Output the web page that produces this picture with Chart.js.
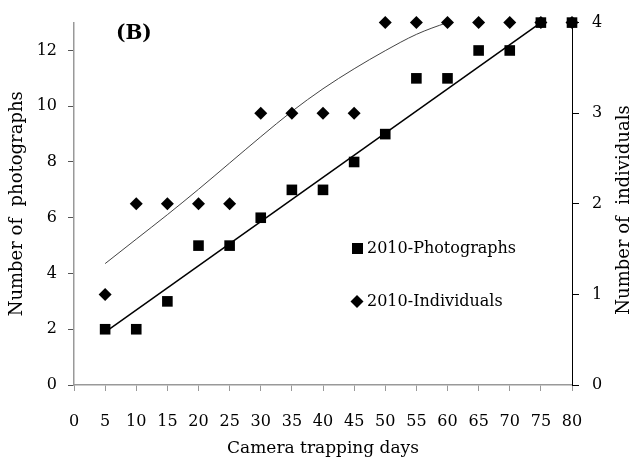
<!DOCTYPE html>
<html>
<head>
<meta charset="utf-8">
<script src="https://cdn.jsdelivr.net/npm/chart.js@4/dist/chart.umd.min.js"></script>
<style>
  html, body { margin: 0; padding: 0; background: #fff; }
  #wrap { width: 633px; height: 464px; }
</style>
</head>
<body>
<div id="wrap"><canvas id="chart" width="633" height="464"></canvas></div>
<script>
// 資料
const days = [5, 10, 15, 20, 25, 30, 35, 40, 45, 50, 55, 60, 65, 70, 75, 80];
const photographs = [2, 2, 3, 5, 5, 6, 7, 7, 8, 9, 11, 11, 12, 12, 13, 13];
const individuals = [1, 2, 2, 2, 2, 3, 3, 3, 3, 4, 4, 4, 4, 4, 4, 4];

// 趨勢線
const photoTrendDays = [5, 75];
const photoTrend = [1.9, 13];
const indTrendDays = [5, 10, 15, 20, 25, 30, 35, 40, 45, 50, 55, 60, 62];
const indTrend = [1.34, 1.61, 1.88, 2.16, 2.45, 2.74, 3.02, 3.27, 3.49, 3.69, 3.87, 4.0, 4.04];

const xTicks = [0, 5, 10, 15, 20, 25, 30, 35, 40, 45, 50, 55, 60, 65, 70, 75, 80];
const leftTicks = [0, 2, 4, 6, 8, 10, 12];
const rightTicks = [0, 1, 2, 3, 4];

const SERIF = '"DejaVu Serif", "Liberation Serif", serif';

const toPts = (xs, ys) => xs.map((x, i) => ({ x: x, y: ys[i] }));

// 圖內圖例、(B) 與右側標題
const overlay = {
  id: 'overlay',
  afterDraw(chart) {
    const c = chart.ctx;
    c.save();
    c.fillStyle = '#000';
    c.font = 'bold 20px ' + SERIF;
    c.textBaseline = 'middle';
    c.textAlign = 'left';
    c.fillText('(B)', 116, 34);

    c.font = '16px ' + SERIF;
    const ds = chart.data.datasets;
    // square
    c.fillRect(352, 243, 11, 11);
    c.fillText(ds[0].label, 367, 249);
    // diamond
    c.beginPath();
    c.moveTo(357, 295);
    c.lineTo(363.5, 301.5);
    c.lineTo(357, 308);
    c.lineTo(350.5, 301.5);
    c.closePath();
    c.fill();
    c.fillText(ds[1].label, 367, 302);

    c.translate(624, 210);
    c.rotate(-Math.PI / 2);
    c.textAlign = 'center';
    c.font = '18px ' + SERIF;
    c.fillText('Number of  individuals', 0, 0);
    c.restore();
  }
};

new Chart(document.getElementById('chart'), {
  type: 'scatter',
  data: {
    datasets: [{
      label: '2010-Photographs',
      data: toPts(days, photographs),
      yAxisID: 'y',
      pointStyle: 'rect',
      pointRadius: 7.5,
      pointBorderWidth: 0,
      backgroundColor: '#000',
      borderColor: '#000',
      clip: false
    }, {
      label: '2010-Individuals',
      data: toPts(days, individuals),
      yAxisID: 'y1',
      pointStyle: 'rectRot',
      pointRadius: 6.5,
      pointBorderWidth: 0,
      backgroundColor: '#000',
      borderColor: '#000',
      clip: false
    }, {
      label: 'photoTrend',
      data: toPts(photoTrendDays, photoTrend),
      yAxisID: 'y',
      showLine: true,
      pointRadius: 0,
      borderColor: '#000',
      borderWidth: 1.5
    }, {
      label: 'indTrend',
      data: toPts(indTrendDays, indTrend),
      yAxisID: 'y1',
      showLine: true,
      cubicInterpolationMode: 'monotone',
      pointRadius: 0,
      borderColor: '#444',
      borderWidth: 1
    }]
  },
  options: {
    responsive: false,
    animation: false,
    layout: { padding: { top: 9, left: 0, right: 0, bottom: 0 } },
    plugins: {
      legend: { display: false },
      tooltip: { enabled: false }
    },
    scales: {
      x: {
        type: 'linear',
        min: 0,
        max: 80,
        afterBuildTicks: (s) => { s.ticks = xTicks.map(v => ({ value: v })); },
        afterFit: (s) => { s.height = 79; },
        border: { display: true, color: '#999', width: 1.5 },
        grid: { drawOnChartArea: false, drawTicks: true, tickLength: 6, color: '#999' },
        ticks: { color: '#000', font: { family: SERIF, size: 16 }, padding: 21, maxRotation: 0, autoSkip: false },
        title: { display: true, text: 'Camera trapping days', color: '#000', font: { family: SERIF, size: 17, lineHeight: 1 }, padding: { top: 0, bottom: 7 } }
      },
      y: {
        type: 'linear',
        position: 'left',
        min: 0,
        max: 13,
        afterBuildTicks: (s) => { s.ticks = leftTicks.map(v => ({ value: v })); },
        afterFit: (s) => { s.width = 74; },
        border: { display: true, color: '#999', width: 1.5 },
        grid: { drawOnChartArea: false, drawTicks: true, tickLength: 6, color: '#555' },
        ticks: { color: '#000', font: { family: SERIF, size: 16 }, padding: 11 },
        title: { display: true, text: 'Number of  photographs', color: '#000', font: { family: SERIF, size: 18, lineHeight: 1 }, padding: { top: 8, bottom: 0 } }
      },
      y1: {
        type: 'linear',
        position: 'right',
        min: 0,
        max: 4,
        afterBuildTicks: (s) => { s.ticks = rightTicks.map(v => ({ value: v })); },
        afterFit: (s) => { s.width = 61; },
        border: { display: true, color: '#000', width: 1 },
        grid: { drawOnChartArea: false, drawTicks: true, tickLength: 7, color: '#000' },
        ticks: { color: '#000', font: { family: SERIF, size: 16 }, padding: 13 }
      }
    }
  },
  plugins: [overlay]
});
</script>
</body>
</html>
